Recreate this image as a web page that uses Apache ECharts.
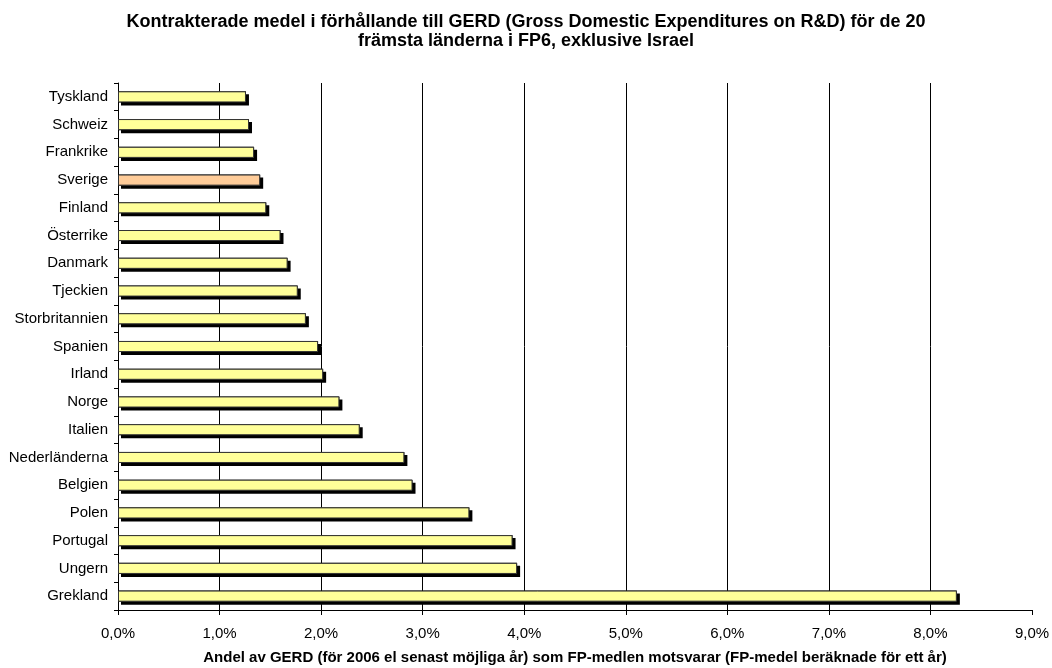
<!DOCTYPE html>
<html>
<head>
<meta charset="utf-8">
<script src="https://cdn.jsdelivr.net/npm/echarts@6/dist/echarts.min.js"></script>
<style>html,body{margin:0;padding:0;background:#fff}#c{width:1052px;height:668px}</style>
</head>
<body>
<div id="c"></div>
<script>
const categories = ["Tyskland","Schweiz","Frankrike","Sverige","Finland","Österrike","Danmark","Tjeckien","Storbritannien","Spanien","Irland","Norge","Italien","Nederländerna","Belgien","Polen","Portugal","Ungern","Grekland"];
const values = [1.26,1.29,1.34,1.40,1.46,1.60,1.67,1.77,1.85,1.97,2.02,2.18,2.38,2.82,2.90,3.46,3.885,3.93,8.26];
const highlight = "Sverige";
const xTicks = {min:0, max:9, interval:1};

const chart = echarts.init(document.getElementById('c'));
const font = "'Liberation Sans', Arial, sans-serif";
chart.setOption({
  animation:false,
  title:{
    text:"Kontrakterade medel i förhållande till GERD (Gross Domestic Expenditures on R&D) för de 20\nfrämsta länderna i FP6, exklusive Israel",
    left:'center', top:8,
    textStyle:{fontFamily:font,fontSize:18,fontWeight:'bold',color:'#000',lineHeight:19}
  },
  grid:{left:118,right:20,top:83,bottom:58,containLabel:false,outerBoundsMode:'none'},
  xAxis:{
    type:'value', min:xTicks.min, max:xTicks.max, interval:xTicks.interval,
    name:"Andel av GERD (för 2006 el senast möjliga år) som FP-medlen motsvarar (FP-medel beräknade för ett år)",
    nameLocation:'middle', nameGap:40,
    nameTextStyle:{fontFamily:font,fontSize:15,fontWeight:'bold',color:'#000'},
    axisLine:{show:true,lineStyle:{color:'#000',width:1}},
    axisTick:{show:true,length:5,lineStyle:{color:'#000'}},
    axisLabel:{fontFamily:font,fontSize:15,color:'#000',margin:16,
      formatter:v=>v.toFixed(1).replace('.',',')+'%'},
    splitLine:{show:true,showMinLine:false,showMaxLine:false,lineStyle:{color:'#000',width:1}}
  },
  yAxis:{
    type:'category', data:categories, inverse:true,
    axisLine:{show:true,lineStyle:{color:'#000',width:1}},
    axisTick:{show:true,length:4,lineStyle:{color:'#000'}},
    axisLabel:{fontFamily:font,fontSize:15,color:'#000',margin:10}
  },
  series:[{
    type:'bar',
    data:values,
    barCategoryGap:'60%',
    barGap:'-100%',
    silent:true,
    itemStyle:{color:'#000',borderWidth:0,shadowColor:'#000',shadowOffsetX:3,shadowOffsetY:3,shadowBlur:0}
  },{
    type:'bar',
    data:values.map((v,i)=>({value:v,itemStyle:{color:categories[i]===highlight?'#FFCC99':'#FFFF99'}})),
    barCategoryGap:'60%',
    barGap:'-100%',
    itemStyle:{borderColor:'#333',borderWidth:1}
  }]
});
</script>
</body>
</html>
